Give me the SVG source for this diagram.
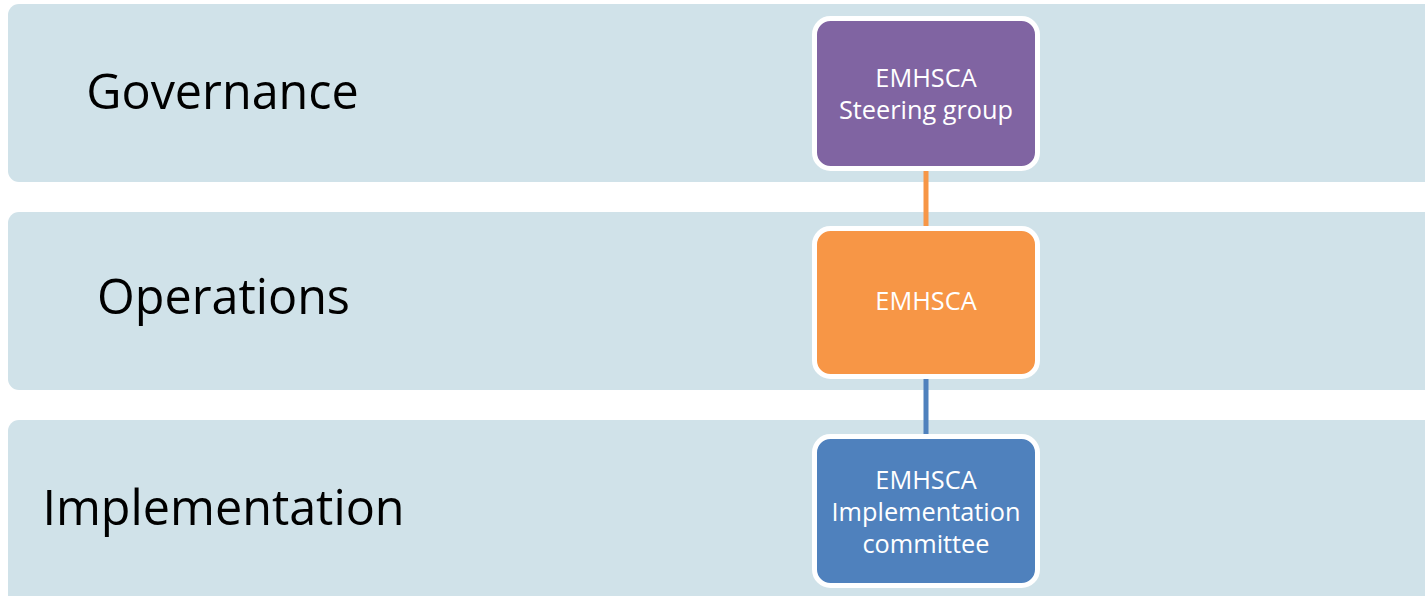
<svg xmlns="http://www.w3.org/2000/svg" width="1425" height="596" viewBox="0 0 1425 596">
<style>
.band{fill:#D0E2E9;}
.lbl{font-family:"Open Sans","Liberation Sans",sans-serif;font-size:48.5px;fill:#000;text-anchor:middle;}
.node rect{stroke:#FFFFFF;stroke-width:5;}
.ntx{font-family:"Open Sans","Liberation Sans",sans-serif;font-size:25.3px;fill:#FFFFFF;text-anchor:middle;}
.conn{stroke-width:5;fill:none;}
</style>
<rect width="1425" height="596" fill="#FFFFFF"/>
<g id="band-governance"><rect class="band" x="8" y="4" width="1440" height="178" rx="11"/><text class="lbl" x="222.5" y="109">Governance</text></g>
<g id="band-operations"><rect class="band" x="8" y="212" width="1440" height="178" rx="11"/><text class="lbl" x="223.5" y="314">Operations</text></g>
<g id="band-implementation"><rect class="band" x="8" y="420" width="1440" height="200" rx="11"/><text class="lbl" x="223.5" y="525">Implementation</text></g>
<g id="connectors">
<line class="conn" x1="926" y1="170" x2="926" y2="228" stroke="#F79646"/>
<line class="conn" x1="926" y1="378" x2="926" y2="436" stroke="#4F81BD"/>
</g>
<g id="node-steering" class="node"><rect x="814.5" y="18.5" width="223" height="150" rx="16" fill="#8064A2"/><text class="ntx" x="926" y="87">EMHSCA</text><text class="ntx" x="926" y="119">Steering group</text></g>
<g id="node-emhsca" class="node"><rect x="814.5" y="228.5" width="223" height="148" rx="16" fill="#F79646"/><text class="ntx" x="926" y="310">EMHSCA</text></g>
<g id="node-implementation" class="node"><rect x="814.5" y="436.5" width="223" height="149" rx="16" fill="#4F81BD"/><text class="ntx" x="926" y="489">EMHSCA</text><text class="ntx" x="926" y="521">Implementation</text><text class="ntx" x="926" y="553">committee</text></g>
</svg>
